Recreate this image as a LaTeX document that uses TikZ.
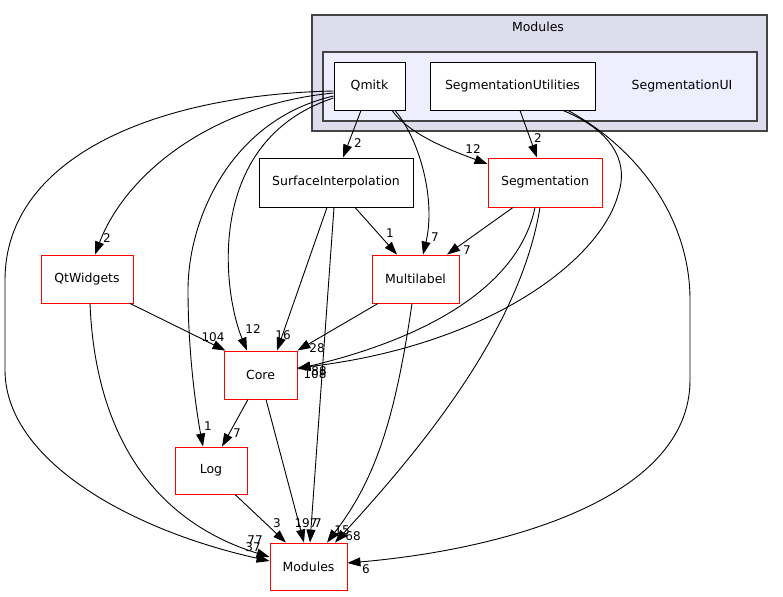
\documentclass[tikz,border=0pt]{standalone}
\usepackage{fontspec}
\setmainfont{DejaVu Sans}
\usetikzlibrary{arrows.meta,calc}
\definecolor{clout}{HTML}{DDDDEE}
\definecolor{clin}{HTML}{EEEEFF}
\definecolor{clbd}{HTML}{444444}
\begin{document}
\begin{tikzpicture}[x=1pt,y=-1pt,
  nfont/.style={font=\fontsize{12.5}{15}\selectfont},
  box/.style={nfont,draw=black,fill=white,line width=0.9pt,inner sep=0pt,minimum height=48pt},
  rbox/.style={box,draw=red},
  lbl/.style={font=\fontsize{12}{14}\selectfont,inner sep=0pt},
  edge/.style={line width=0.9pt,-{Triangle[length=13pt,width=9pt]}},
  cluster/.style={draw=clbd,line width=1.3pt}
]
\useasboundingbox (0,0) rectangle (783,596);
% clusters
\draw[cluster,fill=clout] (312,15) rectangle (767,131);
\node[nfont] (modlabel) at (538,27) {Modules};
\draw[cluster,fill=clin] (323,52) rectangle (757,121);
\node[nfont] (segui) at (682,86) {SegmentationUI};
% nodes
\node[box,minimum width=71pt] (qmitk) at (369.5,86) {Qmitk};
\node[box,minimum width=165pt] (segutil) at (512.5,86) {SegmentationUtilities};
\node[box,minimum width=154pt,minimum height=49pt] (surf) at (336,182.5) {SurfaceInterpolation};
\node[rbox,minimum width=114pt,minimum height=49pt] (seg) at (545,182.5) {Segmentation};
\node[rbox,minimum width=92pt] (qtw) at (87,279) {QtWidgets};
\node[rbox,minimum width=87pt] (multi) at (415.5,279) {Multilabel};
\node[rbox,minimum width=73pt] (core) at (260.5,375) {Core};
\node[rbox,minimum width=72pt,minimum height=47pt] (log) at (211,470.5) {Log};
\node[rbox,minimum width=77pt,minimum height=47pt] (mods) at (308.5,566.5) {Modules};
% edges
% Qmitk -> SurfaceInterpolation
\draw[edge] ($(qmitk.south)+(-8.5,0)$) -- ($(surf.north)+(7,0)$);
% Qmitk -> Segmentation
\draw[edge] ($(qmitk.south)+(22.5,0)$) .. controls (410,135) and (450,150) .. ($(seg.west)+(0,-18.5)$);
% Qmitk -> Multilabel
\draw[edge] ($(qmitk.south)+(25.5,0)$) .. controls (420,140) and (436,200) .. ($(multi.north)+(7.5,0)$);
% Qmitk -> Core
\draw[edge] ($(qmitk.west)+(0,12)$) .. controls (205,140) and (222,290) .. ($(core.north)+(-13.5,0)$);
% Qmitk -> Log
\draw[edge] ($(qmitk.west)+(0,10)$) .. controls (230,120) and (188,220) .. (188,290)
  .. controls (188,360) and (198,420) .. ($(log.north)+(-8,0)$);
% Qmitk -> QtWidgets
\draw[edge] ($(qmitk.west)+(0,7)$) .. controls (210,105) and (125,175) .. ($(qtw.north)+(8,0)$);
% Qmitk -> Modules
\draw[edge] ($(qmitk.west)+(0,5)$) .. controls (150,95) and (5,160) .. (5,280) -- (5,370)
  .. controls (5,460) and (130,530) .. ($(mods.west)+(0,-5.5)$);
% SegmentationUtilities -> Segmentation
\draw[edge] ($(segutil.south)+(7.5,0)$) -- ($(seg.north)+(-8,0)$);
% SegmentationUtilities -> Core
\draw[edge] ($(segutil.south)+(50.5,0)$) .. controls (610,130) and (630,160) .. (618,195)
  .. controls (600,260) and (490,345) .. ($(core.east)+(0,-7)$);
% SegmentationUtilities -> Modules
\draw[edge] ($(segutil.south)+(55.5,0)$) .. controls (640,150) and (690,220) .. (690,300) -- (690,380)
  .. controls (690,500) and (500,550) .. ($(mods.east)+(0,-3.5)$);
% SurfaceInterpolation -> Multilabel, Core, Modules
\draw[edge] ($(surf.south)+(19,0)$) -- ($(multi.north)+(-18.5,0)$);
\draw[edge] ($(surf.south)+(-9,0)$) -- ($(core.north)+(16.5,0)$);
\draw[edge] ($(surf.south)+(-2,0)$) -- ($(mods.north)+(1.5,0)$);
% Segmentation -> Multilabel, Core, Modules
\draw[edge] ($(seg.south)+(-32,0)$) -- ($(multi.north)+(31.5,0)$);
\draw[edge] ($(seg.south)+(-10,0)$) .. controls (520,280) and (440,335) .. ($(core.east)+(0,-6)$);
\draw[edge] ($(seg.south)+(-5,0)$) .. controls (520,330) and (420,450) .. ($(mods.north)+(26.5,0)$);
% QtWidgets -> Core, Modules
\draw[edge] ($(qtw.south)+(43,0)$) -- ($(core.north)+(-35,0)$);
\draw[edge] ($(qtw.south)+(3,0)$) .. controls (95,430) and (150,520) .. ($(mods.west)+(0,-9.5)$);
% Multilabel -> Core, Modules
\draw[edge] ($(multi.south)+(-37.5,0)$) -- (core.north east);
\draw[edge] ($(multi.south)+(-3.5,0)$) .. controls (395,420) and (375,480) .. ($(mods.north)+(18.5,0)$);
% Core -> Log, Modules
\draw[edge] ($(core.south)+(-12.5,0)$) -- ($(log.north)+(11,0)$);
\draw[edge] ($(core.south)+(5.5,0)$) -- ($(mods.north)+(-4.5,0)$);
% Log -> Modules
\draw[edge] ($(log.south)+(24,0)$) -- ($(mods.north)+(-22.5,0)$);
% labels
\node[lbl] (l1) at (358,143) {2};
\node[lbl] (l2) at (473,149) {12};
\node[lbl] (l3) at (435,237) {7};
\node[lbl] (l4) at (253,329) {12};
\node[lbl] (l5) at (208,426) {1};
\node[lbl] (l6) at (107,238) {2};
\node[lbl] (l7) at (253,547) {37};
\node[lbl] (l18) at (255,540) {77};
\node[lbl] (l8) at (538,138) {2};
\node[lbl] (l9) at (315,374) {108};
\node[lbl] (l15) at (319,371) {88};
\node[lbl] (l10) at (366,569) {6};
\node[lbl] (l11) at (390,233) {1};
\node[lbl] (l12) at (283,335) {16};
\node[lbl] (l13) at (318,523) {7};
\node[lbl] (l22) at (306,523) {197};
\node[lbl] (l14) at (467,250) {7};
\node[lbl] (l16) at (353,536) {68};
\node[lbl] (l20) at (342,530) {15};
\node[lbl] (l17) at (213,337) {104};
\node[lbl] (l19) at (317,348) {28};
\node[lbl] (l21) at (237,433) {7};
\node[lbl] (l23) at (277,523) {3};
\end{tikzpicture}
\end{document}
